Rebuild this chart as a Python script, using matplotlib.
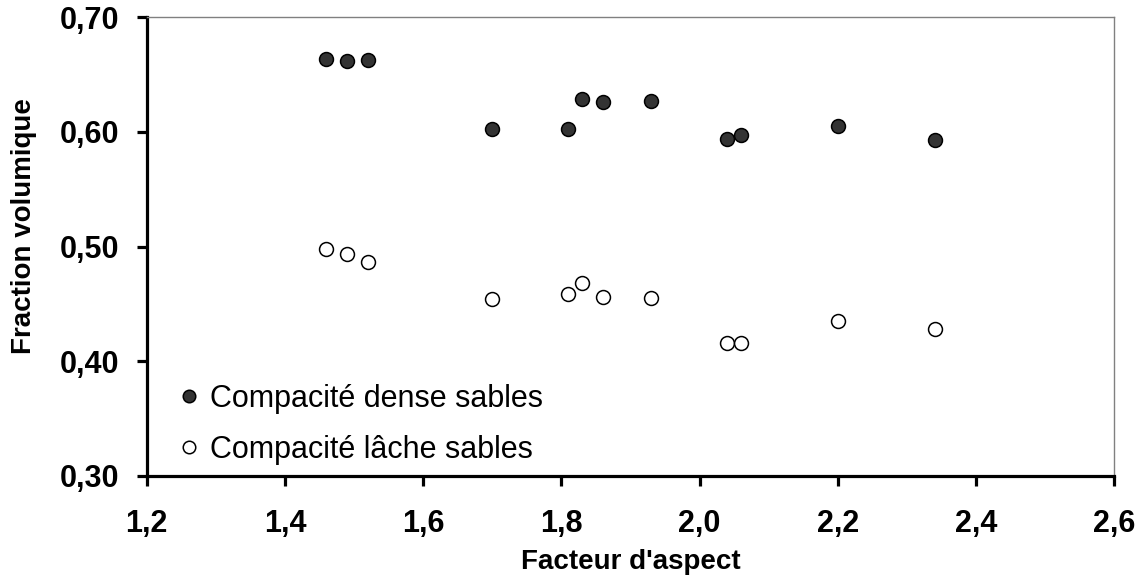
import matplotlib
matplotlib.use("Agg")
import matplotlib.pyplot as plt
from matplotlib.ticker import FixedLocator, FuncFormatter

plt.rcParams['font.family'] = ['Liberation Sans', 'DejaVu Sans']

# Data
aspect = [1.46, 1.49, 1.52, 1.70, 1.81, 1.83, 1.86, 1.93, 2.04, 2.06, 2.20, 2.34]
dense = [0.664, 0.662, 0.663, 0.603, 0.603, 0.629, 0.626, 0.627, 0.594, 0.597, 0.605, 0.593]
lache = [0.498, 0.494, 0.487, 0.454, 0.459, 0.468, 0.456, 0.455, 0.416, 0.416, 0.435, 0.428]
label_dense = "Compacité dense sables"
label_lache = "Compacité lâche sables"
xticks = [1.2, 1.4, 1.6, 1.8, 2.0, 2.2, 2.4, 2.6]
yticks = [0.30, 0.40, 0.50, 0.60, 0.70]

W, H = 1146, 576
fig = plt.figure(figsize=(W / 100, H / 100), dpi=100)
left, right, top, bottom = 146.7, 1114.3, 17.3, 476.0
ax = fig.add_axes([left / W, 1 - bottom / H, (right - left) / W, (bottom - top) / H])

ax.plot(aspect, dense, linestyle='none', marker='o', markersize=10,
        markerfacecolor='#333333', markeredgecolor='black', markeredgewidth=1.1,
        label=label_dense)
ax.plot(aspect, lache, linestyle='none', marker='o', markersize=10,
        markerfacecolor='white', markeredgecolor='black', markeredgewidth=1.1,
        label=label_lache)

ax.set_xlim(1.2, 2.6)
ax.set_ylim(0.30, 0.70)
ax.xaxis.set_major_locator(FixedLocator(xticks))
ax.yaxis.set_major_locator(FixedLocator(yticks))
ax.xaxis.set_major_formatter(FuncFormatter(lambda v, p: f"{v:.1f}".replace('.', ',')))
ax.yaxis.set_major_formatter(FuncFormatter(lambda v, p: f"{v:.2f}".replace('.', ',')))

for s in ['left', 'bottom']:
    ax.spines[s].set_linewidth(2.3)
    ax.spines[s].set_color('black')
for s in ['top', 'right']:
    ax.spines[s].set_linewidth(1.0)
    ax.spines[s].set_color('#808080')

ax.tick_params(axis='both', direction='out', length=7, width=2.3, color='black',
               labelsize=22)
ax.tick_params(axis='x', pad=17)
ax.tick_params(axis='y', pad=13)
for lab in ax.get_xticklabels() + ax.get_yticklabels():
    lab.set_fontweight('bold')

ax.set_xlabel("Facteur d'aspect", fontsize=20, fontweight='bold')
ax.set_ylabel("Fraction volumique", fontsize=20, fontweight='bold')
ax.xaxis.set_label_coords(0.5, -0.16)
ax.yaxis.set_label_coords(-0.113, 0.545)

leg = ax.legend(loc='upper left', bbox_to_anchor=(176.5 / W, 1 - 384 / H),
                bbox_transform=fig.transFigure, frameon=False, fontsize=22,
                borderpad=0, borderaxespad=0, handlelength=0.8,
                handletextpad=0.3, labelspacing=0.68, markerscale=0.9)

fig.savefig("out.png", dpi=100)
